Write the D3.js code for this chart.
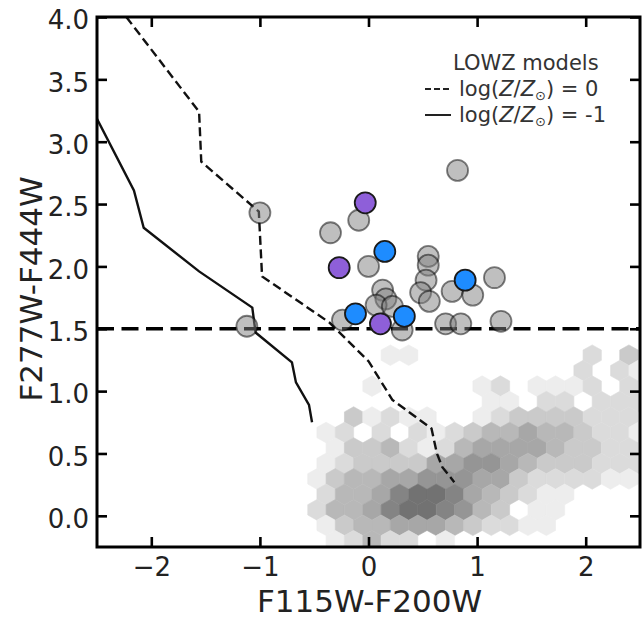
<!DOCTYPE html>
<html>
<head>
<meta charset="utf-8">
<script src="https://cdn.jsdelivr.net/npm/d3@7"></script>
<style>
  body { margin: 0; background: #fff; }
  svg { display: block; font-family: "DejaVu Sans", sans-serif; }
</style>
</head>
<body>
<svg id="chart" width="643" height="620"></svg>
<script>
// ---- axis ticks ----
const xTicks = [-2, -1, 0, 1, 2];
const yTicks = [0, 0.5, 1, 1.5, 2, 2.5, 3, 3.5, 4];

// ---- LOWZ model tracks ----
const solarX = [-2.23, -1.56, -1.54, -1.01, -0.98, -0.36, 0.0, 0.22, 0.58, 0.63, 0.68, 0.79];
const solarY = [4.00, 3.24, 2.84, 2.44, 1.92, 1.55, 1.24, 0.93, 0.70, 0.50, 0.39, 0.27];
const subSolarX = [-2.51, -2.16, -2.07, -1.56, -1.07, -1.04, -0.705, -0.668, -0.548, -0.52];
const subSolarY = [3.20, 2.61, 2.31, 1.96, 1.67, 1.47, 1.23, 1.07, 0.89, 0.75];

// ---- colour cut ----
const cutY = 1.5;

// ---- candidate sources ----
const greyX = [0.82, -0.09, -1.0, -0.35, 0.0, 0.55, 0.55, 0.53, 1.16, 0.77, 0.96, 0.48, 0.56, 0.13, 0.16, 0.07, 0.22, -0.24, 0.31, 0.71, 0.85, 1.22, -1.12];
const greyY = [2.77, 2.37, 2.43, 2.27, 2.0, 2.08, 2.01, 1.89, 1.91, 1.80, 1.77, 1.79, 1.72, 1.81, 1.74, 1.69, 1.68, 1.57, 1.49, 1.54, 1.54, 1.56, 1.52];
const purpleX = [-0.03, -0.27, 0.11];
const purpleY = [2.51, 1.99, 1.54];
const blueX = [0.15, 0.89, -0.12, 0.33];
const blueY = [2.12, 1.89, 1.62, 1.60];

// ---- field population, hexbin counts (rows from top to bottom, level 0-9) ----
const hexRows = [
  "00000011000000000203",
  "00000000000000002021",
  "00000100000120111202",
  "00000000000110220222",
  "00003121100123333222",
  "00120202123445443221",
  "00013342124555543322",
  "00123333556654333222",
  "00134455666553222211",
  "00244578875432110000",
  "00244578876430110000",
  "00134455543221100000",
  "00012422010000000000"
];
const hexX0 = 0.032, hexDX = 0.169, hexY0 = -0.2, hexDY = 0.124;

(function draw() {
  const svg = d3.select("#chart");
  const mL = 97, mT = 17, mR = 640, mB = 547;
  const x = d3.scaleLinear().domain([-2.5, 2.5]).range([mL, mR]);
  const y = d3.scaleLinear().domain([-0.25, 4]).range([mB, mT]);

  svg.append("defs").append("clipPath").attr("id", "plotArea")
    .append("rect").attr("x", mL).attr("y", mT)
    .attr("width", mR - mL).attr("height", mB - mT);

  const plot = svg.append("g").attr("clip-path", "url(#plotArea)");

  // hexbin cells
  const nRows = hexRows.length;
  const shade = d3.scaleLinear().domain([1, 8]).range(["#ededed", "#727272"]).clamp(true);
  const hw = (x(hexDX) - x(0)) / 2;
  const hr = (y(0) - y(hexDY)) / 1.5;
  const hexPath = `M0,${-hr}L${hw},${-hr / 2}L${hw},${hr / 2}L0,${hr}L${-hw},${hr / 2}L${-hw},${-hr / 2}Z`;
  const cells = [];
  hexRows.forEach((row, r) => {
    const k = nRows - 1 - r;
    row.split("").forEach((ch, c) => {
      const v = +ch;
      if (!v) return;
      cells.push({
        cx: hexX0 + (c - 5) * hexDX + (k % 2 ? hexDX / 2 : 0),
        cy: hexY0 + k * hexDY,
        v
      });
    });
  });
  plot.append("g").selectAll("path").data(cells).join("path")
    .attr("d", hexPath)
    .attr("transform", d => `translate(${x(d.cx)},${y(d.cy)})`)
    .attr("fill", d => shade(d.v))
    .attr("stroke", d => shade(d.v))
    .attr("stroke-width", 0.6);

  // model tracks
  const line = d3.line().x(d => x(d[0])).y(d => y(d[1]));
  plot.append("path")
    .attr("d", line(d3.zip(solarX, solarY)))
    .attr("fill", "none").attr("stroke", "#111").attr("stroke-width", 2.4)
    .attr("stroke-dasharray", "9 4.5");
  plot.append("path")
    .attr("d", line(d3.zip(subSolarX, subSolarY)))
    .attr("fill", "none").attr("stroke", "#111").attr("stroke-width", 2.4);

  // colour cut
  plot.append("line")
    .attr("x1", x(-2.5)).attr("x2", x(2.5))
    .attr("y1", y(cutY)).attr("y2", y(cutY))
    .attr("stroke", "#000").attr("stroke-width", 3.5)
    .attr("stroke-dasharray", "17 7.5");

  // sources
  const rad = 10.5;
  plot.append("g").selectAll("circle").data(d3.zip(greyX, greyY)).join("circle")
    .attr("cx", d => x(d[0])).attr("cy", d => y(d[1])).attr("r", rad)
    .attr("fill", "#808080").attr("fill-opacity", 0.5)
    .attr("stroke", "#000").attr("stroke-opacity", 0.5).attr("stroke-width", 1.8);
  plot.append("g").selectAll("circle").data(d3.zip(purpleX, purpleY)).join("circle")
    .attr("cx", d => x(d[0])).attr("cy", d => y(d[1])).attr("r", rad)
    .attr("fill", "#8e5fd9")
    .attr("stroke", "#1a1a1a").attr("stroke-width", 1.8);
  plot.append("g").selectAll("circle").data(d3.zip(blueX, blueY)).join("circle")
    .attr("cx", d => x(d[0])).attr("cy", d => y(d[1])).attr("r", rad)
    .attr("fill", "#1e8cff")
    .attr("stroke", "#1a1a1a").attr("stroke-width", 1.8);

  // frame and inward ticks on all four sides
  const tickLen = 10, tickW = 2.6;
  const axisBottom = d3.axisBottom(x).tickValues(xTicks).tickSizeInner(-tickLen).tickSizeOuter(0)
    .tickPadding(11).tickFormat(d3.format("d"));
  const axisTop = d3.axisTop(x).tickValues(xTicks).tickSizeInner(-tickLen).tickSizeOuter(0).tickFormat("");
  const axisLeft = d3.axisLeft(y).tickValues(yTicks).tickSizeInner(-tickLen).tickSizeOuter(0)
    .tickPadding(8).tickFormat(d3.format(".1f"));
  const axisRight = d3.axisRight(y).tickValues(yTicks).tickSizeInner(-tickLen).tickSizeOuter(0).tickFormat("");

  function style(g) {
    g.select(".domain").remove();
    g.selectAll(".tick line").attr("stroke", "#000").attr("stroke-width", tickW);
    g.selectAll(".tick text").attr("fill", "#222").attr("font-size", 26)
      .attr("font-family", "DejaVu Sans, sans-serif");
  }
  svg.append("g").attr("transform", `translate(0,${mB})`).call(axisBottom).call(style)
    .selectAll(".tick text").attr("dy", "0.71em");
  svg.append("g").attr("transform", `translate(0,${mT})`).call(axisTop).call(style);
  svg.append("g").attr("transform", `translate(${mL},0)`).call(axisLeft).call(style)
    .selectAll(".tick text").attr("dy", "0.45em");
  svg.append("g").attr("transform", `translate(${mR},0)`).call(axisRight).call(style);

  svg.append("rect").attr("x", mL).attr("y", mT)
    .attr("width", mR - mL).attr("height", mB - mT)
    .attr("fill", "none").attr("stroke", "#000").attr("stroke-width", 3);

  // axis titles
  svg.append("text").attr("x", (mL + mR) / 2 + 1).attr("y", 612)
    .attr("text-anchor", "middle").attr("font-size", 31).attr("fill", "#222")
    .text("F115W-F200W");
  svg.append("text").attr("transform", "translate(42,289) rotate(-90)")
    .attr("text-anchor", "middle").attr("font-size", 31).attr("fill", "#222")
    .text("F277W-F444W");

  // legend
  const leg = svg.append("g").attr("fill", "#333").attr("font-size", 21);
  leg.append("text").attr("x", 453).attr("y", 70).text("LOWZ models");
  const entries = [
    { dash: "6 3", val: "0", yy: 96 },
    { dash: null, val: "-1", yy: 122 }
  ];
  entries.forEach(e => {
    leg.append("line").attr("x1", 425).attr("x2", 451)
      .attr("y1", e.yy - 7).attr("y2", e.yy - 7)
      .attr("stroke", "#222").attr("stroke-width", 2)
      .attr("stroke-dasharray", e.dash);
    const t = leg.append("text").attr("x", 459).attr("y", e.yy);
    t.append("tspan").text("log(");
    t.append("tspan").attr("font-style", "italic").text("Z");
    t.append("tspan").text("/");
    t.append("tspan").attr("font-style", "italic").text("Z");
    t.append("tspan").attr("font-size", 13).attr("dy", 4).text("⊙");
    t.append("tspan").attr("dy", -4).text(") = " + e.val);
  });
})();
</script>
</body>
</html>
